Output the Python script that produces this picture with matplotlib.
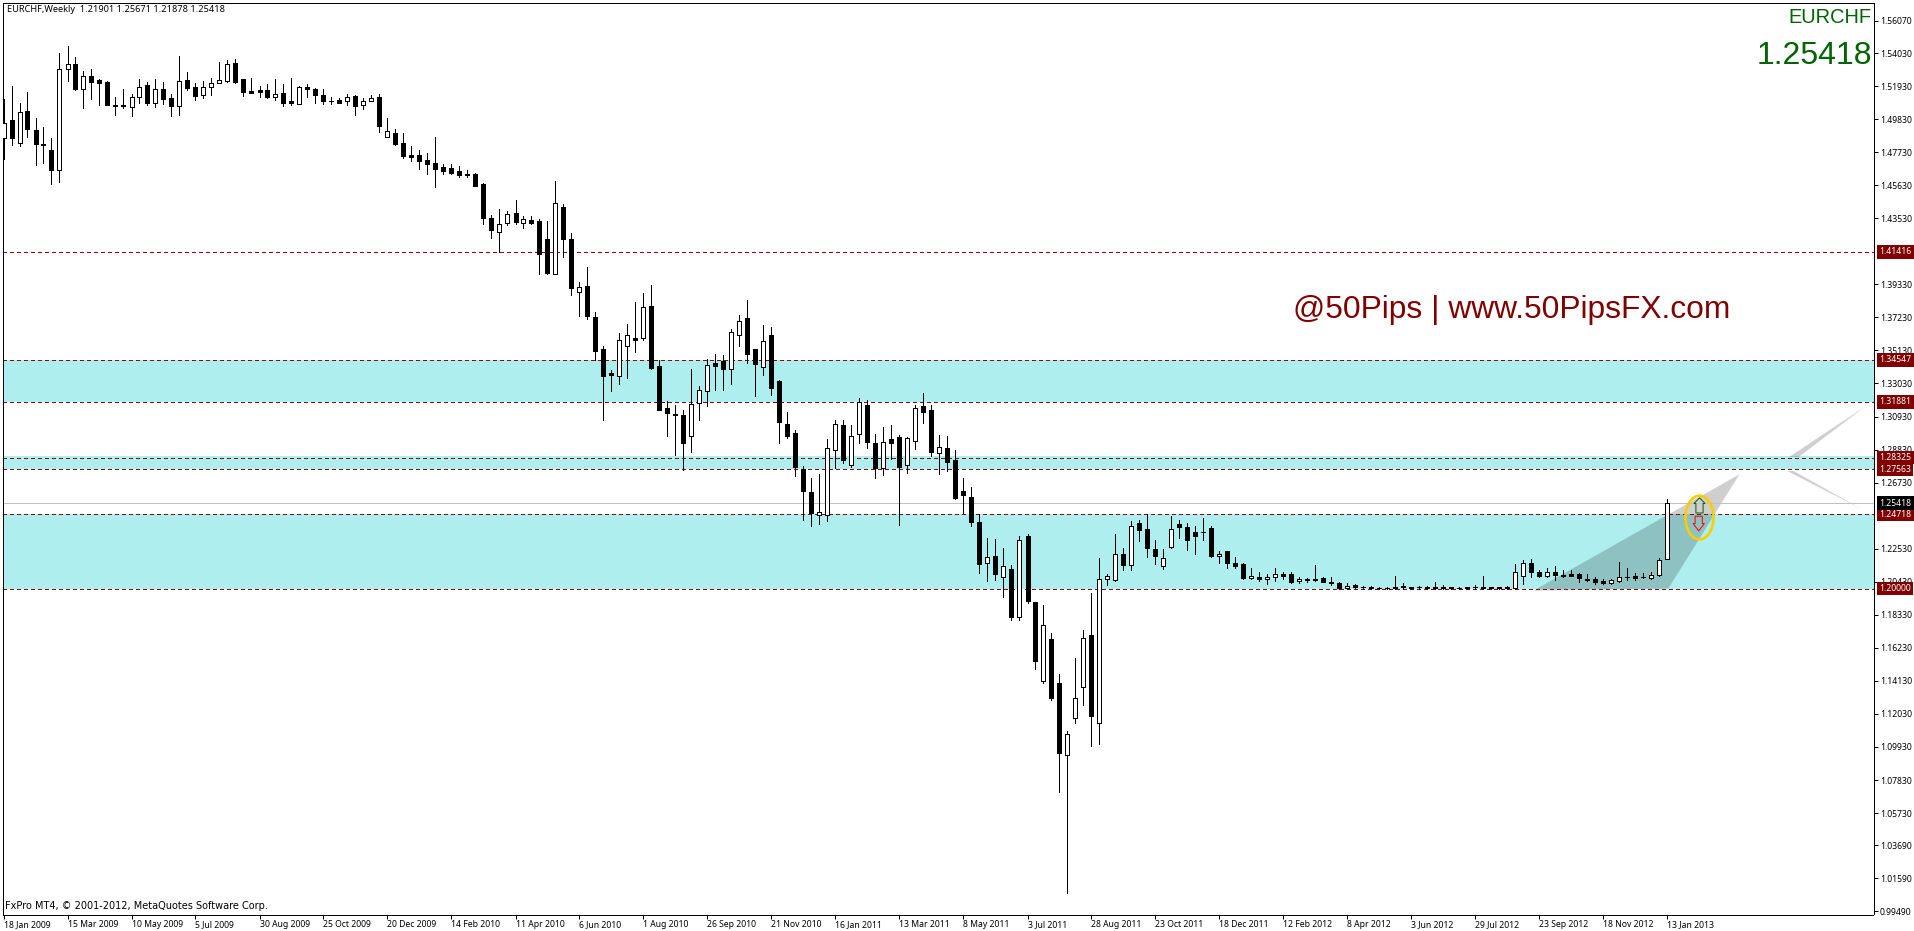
import numpy as np
import matplotlib
matplotlib.use('Agg')
import matplotlib.pyplot as plt
from matplotlib.patches import Ellipse, Polygon

plt.rcParams['font.family'] = ['Noto Sans', 'DejaVu Sans']

# candle bodies and wicks, one value per bar
body_top = [
    1.4961,1.4976,1.5025,1.5033,1.4912,1.4824,1.4785,1.5304,1.5330,1.5332,
    1.5254,1.5256,1.5230,1.5220,1.5075,1.5071,1.5126,1.5190,1.5198,1.5173,
    1.5173,1.5116,1.5228,1.5230,1.5186,1.5184,1.5215,1.5230,1.5336,1.5338,
    1.5237,1.5160,1.5165,1.5167,1.5145,1.5148,1.5095,1.5190,1.5184,1.5173,
    1.5135,1.5101,1.5103,1.5126,1.5129,1.5099,1.5120,1.5122,1.4910,1.4893,
    1.4830,1.4754,1.4754,1.4726,1.4703,1.4677,1.4671,1.4652,1.4632,1.4635,
    1.4569,1.4353,1.4319,1.4383,1.4385,1.4351,1.4340,1.4334,1.4220,1.4453,
    1.4423,1.4220,1.3915,1.3921,1.3724,1.3525,1.3368,1.3582,1.3614,1.3595,
    1.3792,1.3794,1.3413,1.3144,1.3112,1.3101,1.3175,1.3264,1.3423,1.3436,
    1.3445,1.3627,1.3697,1.3718,1.3521,1.3570,1.3610,1.3317,1.3048,1.2987,
    1.2762,1.2612,1.2483,1.2896,1.3048,1.3038,1.2966,1.3184,1.3165,1.2923,
    1.2928,1.2949,1.2962,1.2959,1.3150,1.3158,1.3133,1.2902,1.2892,1.2815,
    1.2618,1.2580,1.2421,1.2203,1.2205,1.2140,1.2123,1.2311,1.2332,1.1913,
    1.1771,1.1678,1.1398,1.1078,1.1301,1.1688,1.1703,1.2063,1.2082,1.2222,
    1.2222,1.2400,1.2417,1.2377,1.2248,1.2197,1.2375,1.2409,1.2394,1.2356,
    1.2362,1.2383,1.2222,1.2237,1.2165,1.2154,1.2082,1.2076,1.2074,1.2095,
    1.2091,1.2089,1.2063,1.2063,1.2063,1.2066,1.2044,1.2038,1.2017,1.2023,
    1.2011,1.2010,1.2005,1.2005,1.2012,1.2017,1.2010,1.2011,1.2007,1.2012,
    1.2012,1.2010,1.2005,1.2007,1.2011,1.2012,1.2007,1.2007,1.2007,1.2102,
    1.2165,1.2159,1.2108,1.2106,1.2108,1.2085,1.2091,1.2095,1.2063,1.2059,
    1.2046,1.2051,1.2076,1.2074,1.2078,1.2076,1.2083,1.2184,1.25418]
body_bottom = [
    1.4866,1.4864,1.4834,1.4921,1.4826,1.4819,1.4660,1.4660,1.5304,1.5173,
    1.5177,1.5220,1.5213,1.5073,1.5069,1.5067,1.5063,1.5126,1.5084,1.5088,
    1.5112,1.5067,1.5069,1.5181,1.5131,1.5133,1.5184,1.5215,1.5226,1.5220,
    1.5156,1.5152,1.5158,1.5122,1.5126,1.5086,1.5086,1.5080,1.5177,1.5137,
    1.5099,1.5095,1.5086,1.5095,1.5067,1.5075,1.5101,1.4940,1.4872,1.4826,
    1.4749,1.4743,1.4717,1.4696,1.4665,1.4654,1.4639,1.4626,1.4628,1.4559,
    1.4353,1.4279,1.4266,1.4324,1.4328,1.4324,1.4324,1.4124,1.4002,1.3999,
    1.4220,1.3908,1.3885,1.3733,1.3510,1.3351,1.3358,1.3353,1.3538,1.3580,
    1.3589,1.3400,1.3135,1.3116,1.3104,1.2926,1.2966,1.3182,1.3252,1.3415,
    1.3396,1.3398,1.3614,1.3491,1.3428,1.3408,1.3275,1.3059,1.2970,1.2773,
    1.2621,1.2481,1.2470,1.2470,1.2881,1.2817,1.2786,1.2983,1.2932,1.2765,
    1.2767,1.2926,1.2773,1.2786,1.2938,1.3123,1.2868,1.2862,1.2805,1.2574,
    1.2593,1.2423,1.2157,1.2159,1.2093,1.2076,1.1820,1.1822,1.1921,1.1540,
    1.1415,1.1303,1.0956,1.0939,1.1174,1.1371,1.1191,1.1148,1.2061,1.2057,
    1.2150,1.2152,1.2373,1.2258,1.2207,1.2144,1.2265,1.2390,1.2309,1.2335,
    1.2356,1.2205,1.2207,1.2163,1.2142,1.2066,1.2068,1.2059,1.2061,1.2070,
    1.2078,1.2042,1.2049,1.2055,1.2055,1.2042,1.2036,1.2006,1.2006,1.2010,
    1.2009,1.2004,1.2003,1.2003,1.2002,1.2008,1.2004,1.2009,1.2005,1.2004,
    1.2004,1.2002,1.2003,1.2005,1.2009,1.2004,1.2005,1.2005,1.2005,1.2002,
    1.2080,1.2104,1.2078,1.2080,1.2085,1.2080,1.2080,1.2068,1.2055,1.2042,
    1.2036,1.2036,1.2049,1.2072,1.2068,1.2070,1.2068,1.2087,1.21901]
highs = [
    1.5112,1.5192,1.5086,1.5154,1.4989,1.4931,1.4862,1.5402,1.5446,1.5376,
    1.5287,1.5300,1.5241,1.5224,1.5126,1.5173,1.5145,1.5237,1.5220,1.5237,
    1.5217,1.5145,1.5383,1.5281,1.5211,1.5224,1.5247,1.5345,1.5357,1.5364,
    1.5241,1.5243,1.5196,1.5205,1.5237,1.5207,1.5243,1.5194,1.5205,1.5179,
    1.5173,1.5126,1.5120,1.5145,1.5135,1.5114,1.5133,1.5141,1.4989,1.4919,
    1.4893,1.4811,1.4785,1.4766,1.4868,1.4699,1.4696,1.4684,1.4658,1.4641,
    1.4576,1.4372,1.4410,1.4400,1.4468,1.4366,1.4366,1.4345,1.4334,1.4588,
    1.4442,1.4258,1.3947,1.4044,1.3760,1.3540,1.3387,1.3622,1.3680,1.3820,
    1.3877,1.3928,1.3455,1.3190,1.3165,1.3133,1.3394,1.3290,1.3461,1.3493,
    1.3483,1.3652,1.3735,1.3832,1.3525,1.3673,1.3661,1.3324,1.3120,1.3006,
    1.2781,1.2701,1.2726,1.2949,1.3072,1.3070,1.3038,1.3209,1.3201,1.2981,
    1.3025,1.3038,1.2974,1.2964,1.3169,1.3241,1.3167,1.2974,1.2968,1.2877,
    1.2701,1.2644,1.2472,1.2320,1.2313,1.2256,1.2148,1.2332,1.2345,1.1917,
    1.1894,1.1716,1.1455,1.1093,1.1559,1.1735,1.1972,1.2193,1.2095,1.2345,
    1.2256,1.2426,1.2434,1.2472,1.2307,1.2250,1.2459,1.2438,1.2415,1.2396,
    1.2447,1.2400,1.2241,1.2239,1.2199,1.2161,1.2133,1.2108,1.2091,1.2129,
    1.2108,1.2102,1.2072,1.2066,1.2148,1.2070,1.2072,1.2042,1.2034,1.2029,
    1.2019,1.2017,1.2008,1.2012,1.2078,1.2032,1.2012,1.2019,1.2019,1.2040,
    1.2021,1.2012,1.2010,1.2010,1.2021,1.2078,1.2012,1.2010,1.2015,1.2154,
    1.2180,1.2186,1.2116,1.2133,1.2142,1.2116,1.2116,1.2099,1.2091,1.2070,
    1.2061,1.2061,1.2167,1.2129,1.2101,1.2097,1.2108,1.2197,1.25671]
lows = [
    1.4730,1.4817,1.4813,1.4870,1.4692,1.4701,1.4571,1.4584,1.5226,1.5171,
    1.5054,1.5112,1.5073,1.5071,1.5010,1.5054,1.5004,1.5086,1.5073,1.5061,
    1.5080,1.5004,1.5010,1.5169,1.5103,1.5118,1.5135,1.5213,1.5220,1.5215,
    1.5131,1.5150,1.5124,1.5114,1.5103,1.5065,1.5073,1.5080,1.5122,1.5086,
    1.5078,1.5080,1.5084,1.5073,1.5010,1.5046,1.5095,1.4900,1.4870,1.4819,
    1.4737,1.4717,1.4667,1.4635,1.4552,1.4633,1.4633,1.4616,1.4616,1.4557,
    1.4315,1.4228,1.4139,1.4311,1.4315,1.4290,1.4317,1.3999,1.3997,1.3997,
    1.4107,1.3864,1.3733,1.3714,1.3453,1.3072,1.3256,1.3300,1.3339,1.3504,
    1.3582,1.3396,1.3133,1.2970,1.2849,1.2756,1.2868,1.3072,1.3161,1.3260,
    1.3260,1.3300,1.3542,1.3436,1.3224,1.3358,1.3231,1.2926,1.2957,1.2716,
    1.2436,1.2398,1.2411,1.2430,1.2764,1.2798,1.2773,1.2926,1.2894,1.2703,
    1.2724,1.2822,1.2404,1.2735,1.2885,1.3053,1.2841,1.2728,1.2748,1.2570,
    1.2479,1.2398,1.2099,1.2049,1.2057,1.1947,1.1801,1.1801,1.1909,1.1489,
    1.1402,1.1294,1.0708,1.0066,1.1146,1.1261,1.1000,1.1013,1.2021,1.2049,
    1.2118,1.2118,1.2303,1.2201,1.2157,1.2125,1.2260,1.2322,1.2246,1.2220,
    1.2309,1.2201,1.2163,1.2131,1.2133,1.2061,1.2059,1.2049,1.2030,1.2049,
    1.2059,1.2036,1.2034,1.2042,1.2049,1.2042,1.2025,1.2000,1.2000,1.2006,
    1.2004,1.2000,1.2000,1.2000,1.2000,1.2000,1.2000,1.2000,1.2000,1.2000,
    1.2000,1.2000,1.2000,1.2000,1.2000,1.2000,1.2000,1.2000,1.2000,1.2000,
    1.2027,1.2076,1.2072,1.2074,1.2053,1.2074,1.2078,1.2044,1.2046,1.2029,
    1.2027,1.2027,1.2040,1.2057,1.2057,1.2065,1.2059,1.2080,1.21878]
# bars that closed up, drawn hollow
up_bars = [0,2,7,8,10,16,17,19,22,25,26,27,28,34,37,43,45,46,48,62,63,65,69,72,77,78,
           80,86,87,88,91,92,95,102,103,104,106,107,110,113,114,117,123,125,127,130,
           133,134,135,137,138,139,141,145,146,152,156,158,159,162,168,189,190,193,
           201,202,206,207,208]

date_labels = ['18 Jan 2009','15 Mar 2009','10 May 2009','5 Jul 2009','30 Aug 2009','25 Oct 2009',
               '20 Dec 2009','14 Feb 2010','11 Apr 2010','6 Jun 2010','1 Aug 2010','26 Sep 2010',
               '21 Nov 2010','16 Jan 2011','13 Mar 2011','8 May 2011','3 Jul 2011','28 Aug 2011',
               '23 Oct 2011','18 Dec 2011','12 Feb 2012','8 Apr 2012','3 Jun 2012','29 Jul 2012',
               '23 Sep 2012','18 Nov 2012','13 Jan 2013']
price_ticks = [1.56070,1.54030,1.51930,1.49830,1.47730,1.45630,1.43530,1.39330,1.37230,1.35130,
               1.33030,1.30930,1.28830,1.26730,1.22530,1.20430,1.18330,1.16230,1.14130,1.12030,
               1.09930,1.07830,1.05730,1.03690,1.01590,0.99490]
levels = [1.41416, 1.34547, 1.31881, 1.28325, 1.27563, 1.24718, 1.20000]
zones = [(1.31881, 1.34547), (1.27563, 1.28400), (1.20000, 1.24718)]
last_price = 1.25418

px = 0.72  # one screen pixel in points at dpi 100
label_size = 6.2
fig = plt.figure(figsize=(19.14, 9.31), dpi=100, facecolor='white')
ax = fig.add_axes([2.5/1914, (931-914.5)/931, 1871/1914, 912/931])
ax.set_xlim(-0.125, 233.75)
ax.set_ylim(0.99283, 1.57240)

for lo, hi in zones:
    ax.axhspan(lo, hi, color='#AFEEEE', lw=0, zorder=1, antialiased=False)

# grey forecast triangles, they show through the zones
ax.add_patch(Polygon([(191.25, 1.1986), (208.1, 1.2000), (217, 1.2726)], fc='black', alpha=0.19, lw=0, zorder=1.5))
ax.add_patch(Polygon([(223.2, 1.2836), (224.4, 1.2836), (232.75, 1.3158)], fc='black', alpha=0.19, lw=0, zorder=1.5))
ax.add_patch(Polygon([(222.95, 1.2747), (223.75, 1.2747), (232.3, 1.2504)], fc='black', alpha=0.19, lw=0, zorder=1.5))

ax.axhline(last_price, color='#C0C0C0', lw=px, zorder=2, antialiased=False)
for lev in levels:
    ax.axhline(lev, color='#8B0000', lw=px, ls=(0, (3, 3)), zorder=2, antialiased=False)

bars = np.arange(len(body_top))
top = np.array(body_top)
bottom = np.array(body_bottom)
is_up = np.isin(bars, up_bars)
ax.vlines(bars, lows, highs, color='black', lw=px, zorder=3, antialiased=False)
ax.bar(bars[~is_up], (top-bottom)[~is_up], bottom=bottom[~is_up], width=0.5, fc='black', ec='black',
       lw=px, zorder=4, antialiased=False)
ax.bar(bars[is_up], (top-bottom)[is_up], bottom=bottom[is_up], width=0.5, fc='white', ec='black',
       lw=px, zorder=4, antialiased=False)

# arrows and ring next to the last bar
ax.add_patch(Polygon([(212, 1.2576), (212.7, 1.2540), (212.45, 1.2540), (212.45, 1.2480),
                      (211.55, 1.2480), (211.55, 1.2540), (211.3, 1.2540)],
                     fill=False, ec='#006400', lw=px, zorder=5))
ax.add_patch(Polygon([(211.9, 1.2366), (212.6, 1.2413), (212.35, 1.2413), (212.35, 1.2459),
                      (211.45, 1.2459), (211.45, 1.2413), (211.2, 1.2413)],
                     fill=False, ec='#FF0000', lw=px, zorder=5))
ax.add_patch(Ellipse((212, 1.2451), 3.5, 0.0278, fill=False, ec='#FFCC00', lw=1.9, zorder=5))

ax.yaxis.tick_right()
ax.set_yticks(price_ticks)
ax.set_yticklabels(['%.5f' % p for p in price_ticks], fontsize=label_size)
ax.set_xticks(bars[::8])
ax.set_xticklabels(date_labels, fontsize=label_size, ha='left')
ax.tick_params(axis='y', length=3, width=px, pad=1.5)
ax.tick_params(axis='x', length=3, width=px, pad=1)
for side in ax.spines.values():
    side.set_linewidth(px)

# price tags on the right edge
trans = ax.get_yaxis_transform()
for lev in levels:
    ax.text(1.0030, lev, '%.5f' % lev, transform=trans, color='white', fontsize=label_size, va='center', ha='left',
            clip_on=False, zorder=7, bbox=dict(fc='#800000', ec='none', pad=1.8))
ax.text(1.0030, last_price, '%.5f' % last_price, transform=trans, color='white', fontsize=label_size, va='center',
        ha='left', clip_on=False, zorder=7, bbox=dict(fc='black', ec='none', pad=1.8))

fig.text(7/1914, 1-10/931, 'EURCHF,Weekly  1.21901 1.25671 1.21878 1.25418', fontsize=6.6, va='center', ha='left')
fig.text(5/1914, 1-906/931, 'FxPro MT4, © 2001-2012, MetaQuotes Software Corp.', fontsize=7, va='center', ha='left',
         family='DejaVu Sans')
fig.text(1871/1914, 1-22.7/931, 'EURCHF', color='#006400', fontsize=14.4, ha='right', va='baseline',
         family='Liberation Sans')
fig.text(1872/1914, 1-64/931, '1.25418', color='#006400', fontsize=23, ha='right', va='baseline',
         family='Liberation Sans')
fig.text(1293/1914, 1-318/931, '@50Pips | www.50PipsFX.com', color='#800000', fontsize=22.9, ha='left', va='baseline',
         family='Liberation Sans')

fig.savefig('out.png', dpi=100)
plt.close()
